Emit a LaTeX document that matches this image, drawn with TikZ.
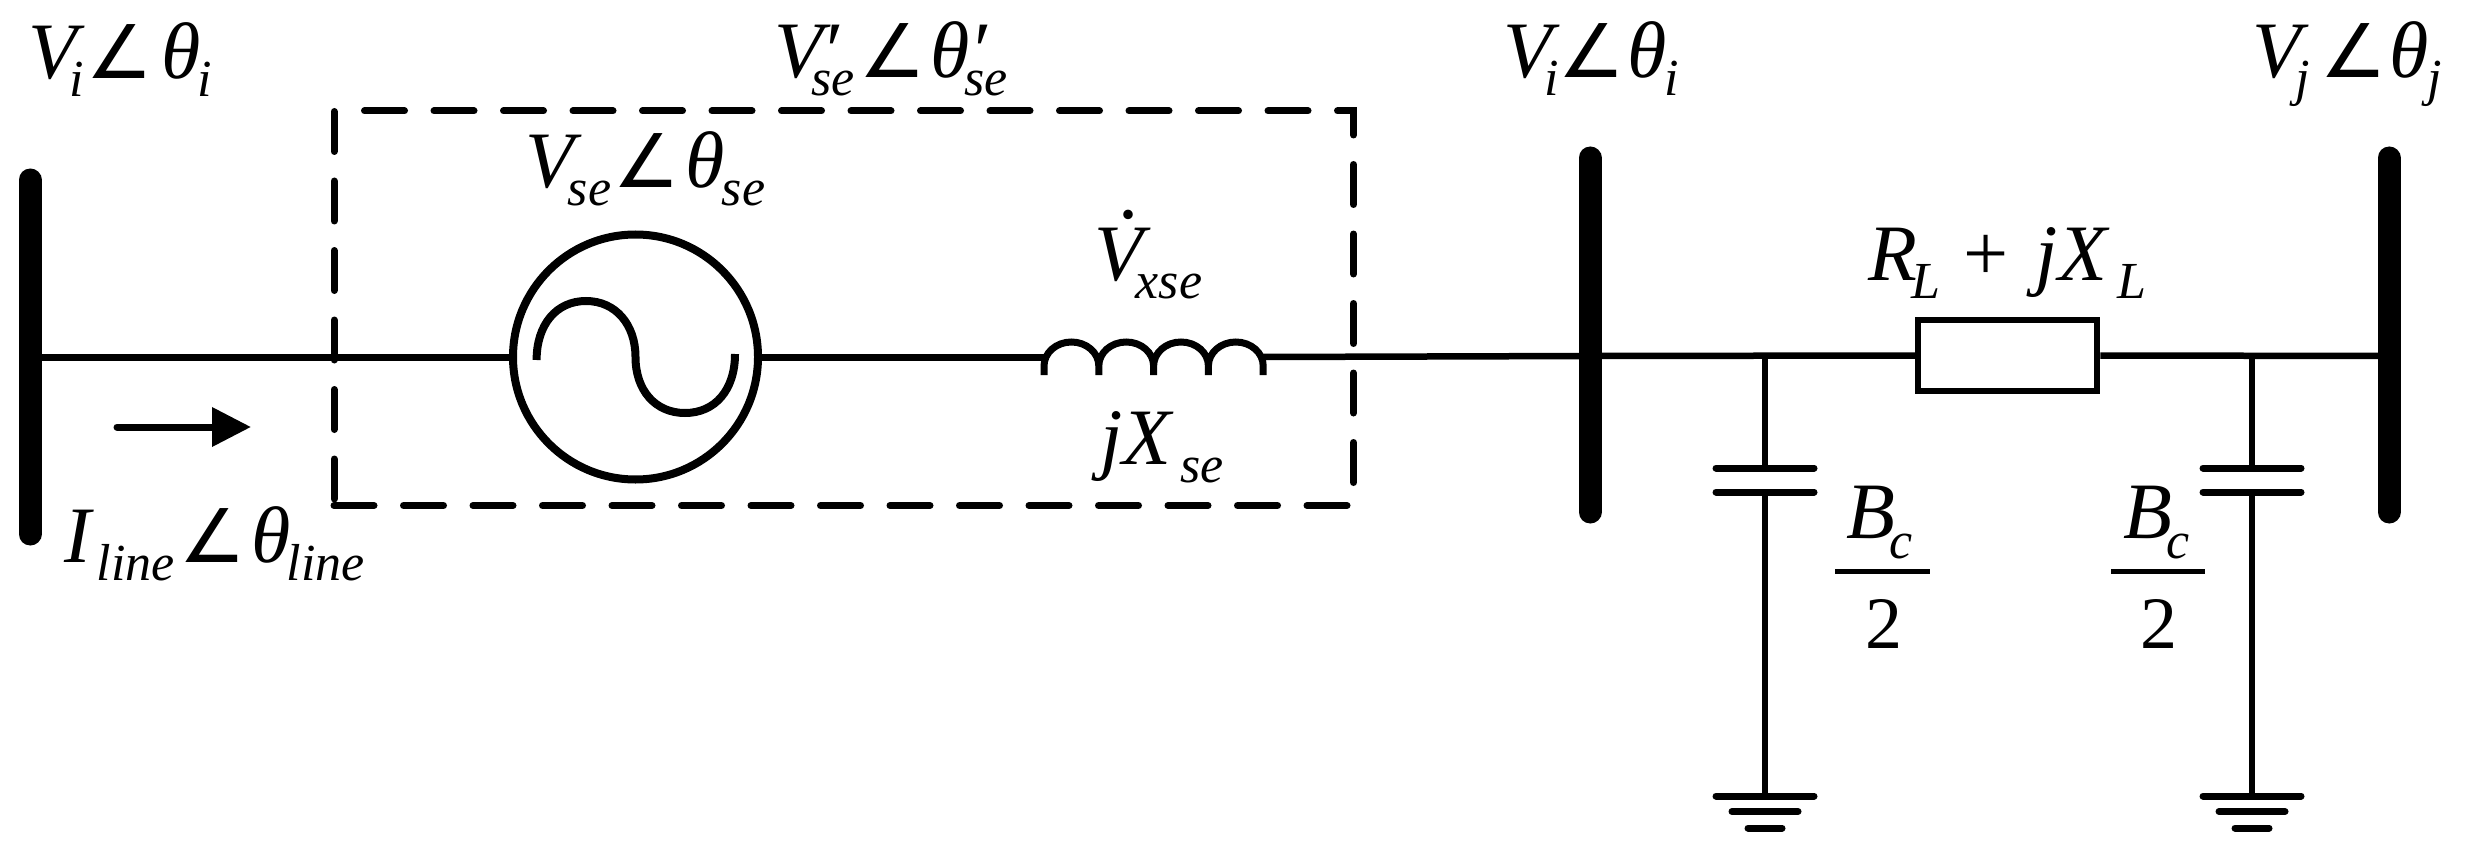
\documentclass[tikz,border=0pt]{standalone}
\usepackage{fontspec}
\setmainfont{Liberation Serif}
\newfontfamily\angfont{DejaVu Sans}
\usetikzlibrary{arrows.meta}
\newcommand\SB[1]{\raisebox{-18pt}{\fontsize{52}{52}\selectfont\itshape #1}}
\newcommand\ANG{{\fontsize{74}{80}\angfont\upshape ∠}}
\newcommand\K[1]{\kern#1pt\relax}
\tikzset{
  lbl/.style={inner sep=0pt,outer sep=0pt,anchor=base west,font=\fontsize{80}{84}\selectfont\itshape},
  wire/.style={line width=6.5pt},
  busbar/.style={line width=23pt,line cap=round},
  plate/.style={line width=7pt,line cap=round},
  dashbox/.style={line width=7pt,line cap=round,dash pattern=on 40pt off 29.5pt},
  fracbar/.style={line width=5pt},
}
\begin{document}
\begin{tikzpicture}[x=1pt,y=-1pt]
\useasboundingbox (0,0) rectangle (2473,853);
% buses
\coordinate (b1t) at (30,180); \coordinate (b1b) at (30,534);
\coordinate (b2t) at (1590,158); \coordinate (b2b) at (1590,512);
\coordinate (b3t) at (2389,158); \coordinate (b3b) at (2389,512);
\coordinate (b1) at (30,357); \coordinate (b2) at (1590,356); \coordinate (b3) at (2389,356);
\draw[busbar] (b1t) -- (b1b);
\draw[busbar] (b2t) -- (b2b);
\draw[busbar] (b3t) -- (b3b);
% generator
\node[circle,draw,line width=8pt,minimum size=245pt,inner sep=0pt] (gen) at (635.5,357) {};
\draw[line width=8pt] (536.6,360) .. controls (536.6,325) and (556,301) .. (586,301)
  .. controls (616,301) and (635.5,325) .. (635.5,357)
  .. controls (635.5,390) and (655,413) .. (685,413)
  .. controls (715,413) and (735,390) .. (735,354);
% inductor
\coordinate (l1) at (1044,357); \coordinate (l2) at (1263,357);
\draw[line width=7pt] (1044,375) -- (1044,366)
  arc[start angle=180,end angle=0,x radius=27.4pt,y radius=24pt] -- (1098.8,375) -- (1098.8,366)
  arc[start angle=180,end angle=0,x radius=27.4pt,y radius=24pt] -- (1153.6,375) -- (1153.6,366)
  arc[start angle=180,end angle=0,x radius=27.4pt,y radius=24pt] -- (1208.4,375) -- (1208.4,366)
  arc[start angle=180,end angle=0,x radius=27.4pt,y radius=24pt] -- (1263.2,375);
% wires
\draw[line width=7pt] (b1) -- (gen.west);
\draw[line width=7pt] (gen.east) -- (l1);
\draw[wire] (l2) -- (b2);
\node[draw,line width=6.5pt,minimum width=179pt,minimum height=71pt,inner sep=0pt] (res) at (2007.5,355.5) {};
\draw[wire] (b2) -- (res.west);
\draw[wire] (res.east) -- (b3);
% shunts
\foreach \n/\x in {a/1765,b/2252}{
  \coordinate (j\n) at (\x,356);
  \coordinate (c1\n) at (\x,468); \coordinate (c2\n) at (\x,492);
  \coordinate (g1\n) at (\x,796); \coordinate (g2\n) at (\x,811.5); \coordinate (g3\n) at (\x,828);
  \draw[wire] (j\n) -- (c1\n);
  \draw[wire] (c2\n) -- (g1\n);
  \draw[plate] ([xshift=-49pt]c1\n) -- ([xshift=49pt]c1\n);
  \draw[plate] ([xshift=-49pt]c2\n) -- ([xshift=49pt]c2\n);
  \draw[plate] ([xshift=-49pt]g1\n) -- ([xshift=49pt]g1\n);
  \draw[plate] ([xshift=-33pt]g2\n) -- ([xshift=33pt]g2\n);
  \draw[plate] ([xshift=-17pt]g3\n) -- ([xshift=17pt]g3\n);
}
% dashed box
\draw[dashbox,line join=miter] (334,505.5) -- (1353.5,505.5) -- (1353.5,111) -- (350,111);
\draw[dashbox] (334,111.5) -- (334,503);
% current arrow
\coordinate (as) at (117,427); \coordinate (ae) at (251,427);
\draw[line width=7pt,line cap=round,-{Triangle[length=39pt,width=38pt]}] (as) -- (ae);
% labels
\node[lbl] (t1) at (28.5,78.5) {V\K{-8}\SB{i}\K{3}\ANG\K{8}θ\K{-3}\SB{i}};
\node[lbl] (t2) at (774,78) {V\K{-1}′\K{-28}\SB{se}\K{4.5}\ANG\K{5}θ′\K{-23}\SB{se}};
\node[lbl] (t3) at (525,188) {V\K{-6}\SB{se}\K{2}\ANG\K{6}θ\K{-3}\SB{se}};
\node[lbl] (t4) at (64,562.5) {I\K{6}\SB{line}\K{5}\ANG\K{6}θ\K{-4.5}\SB{line}};
\node[lbl] (t5) at (1094,280) {\rlap{\K{24.6}\raisebox{62pt}{\upshape .}}V\K{-7}\SB{xse}};
\node[lbl] (t6) at (1100,464) {jX\K{9}\SB{se}};
\node[lbl] (t7) at (1503,78) {V\K{-7}\SB{i}\K{-1}\ANG\K{3}θ\K{-2}\SB{i}};
\node[lbl] (t8) at (2252,78) {V\K{-5}\SB{j}\K{10}\ANG\K{3}θ\K{-1}\SB{j}};
\node[lbl] (t9) at (1868,280) {R\K{-5}\SB{L}\K{23}{\upshape +}\K{27}jX\K{10}\SB{L}};
\node[lbl] (t10) at (1846,538) {B\K{-5}\raisebox{-2pt}{\SB{c}}};
\node[lbl] (t11) at (2123,538) {B\K{-5}\raisebox{-2pt}{\SB{c}}};
\node[lbl,font=\fontsize{74}{78}\selectfont] (t12) at (1865,648) {2};
\node[lbl,font=\fontsize{74}{78}\selectfont] (t13) at (2140,648) {2};
\coordinate (fa1) at (1835,571); \coordinate (fa2) at (1930,571);
\coordinate (fb1) at (2111,571); \coordinate (fb2) at (2205,571);
\draw[fracbar] (fa1) -- (fa2);
\draw[fracbar] (fb1) -- (fb2);
\end{tikzpicture}
\end{document}
